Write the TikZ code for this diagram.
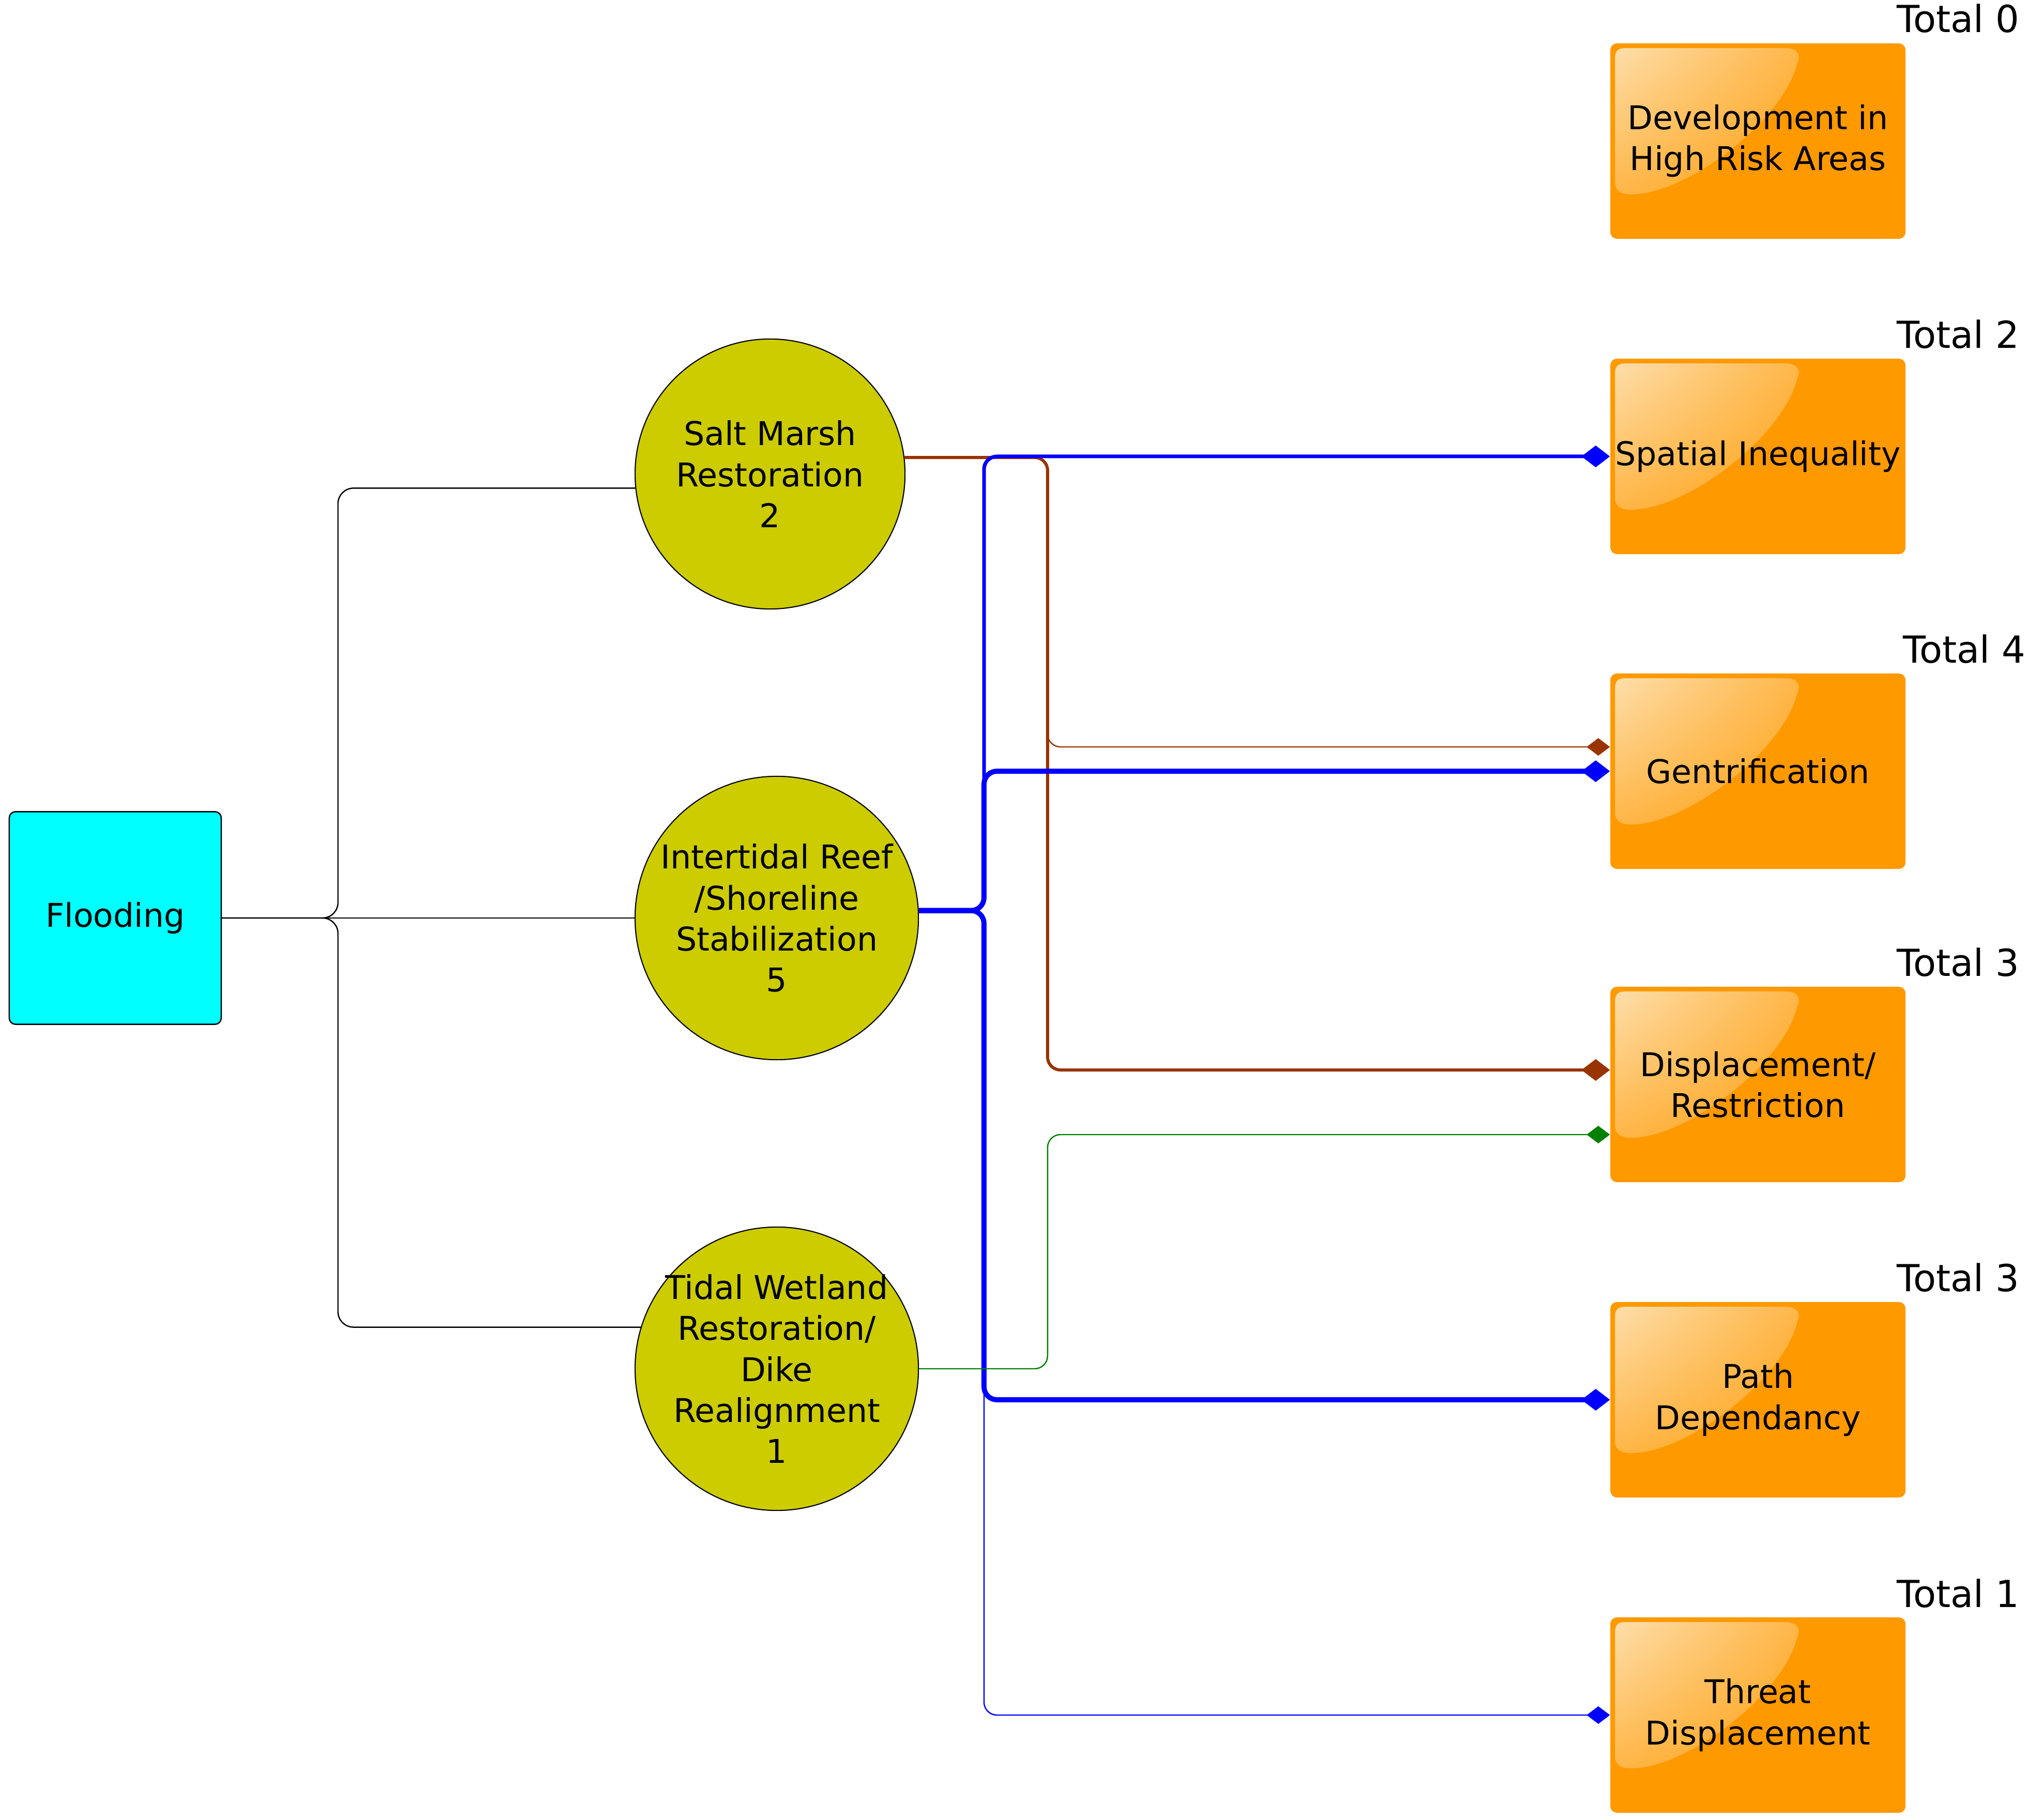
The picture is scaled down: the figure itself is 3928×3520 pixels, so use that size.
\documentclass[tikz,border=0pt]{standalone}
\usepackage{fontspec}
\setmainfont{DejaVu Sans}
\usetikzlibrary{arrows.meta,calc,shadings}

\definecolor{boxor}{RGB}{255,153,0}
\definecolor{circy}{RGB}{204,204,0}
\definecolor{flcyan}{RGB}{0,255,255}
\definecolor{cbrown}{RGB}{153,51,0}
\definecolor{cgreen}{RGB}{0,128,0}
\definecolor{cblue}{RGB}{0,0,255}
\definecolor{glA}{RGB}{253,222,170}
\definecolor{glB}{RGB}{255,182,72}
\definecolor{glD}{RGB}{255,163,22}

\newcommand\glossbox[1]{%
 \begin{scope}[shift={(#1.north west)}]
 \shade[upper left=glA, upper right=glB, lower left=glB, lower right=glD]
   (10,-270) -- (10,-30) .. controls (10,-15) and (15,-10) .. (30,-10) -- (340,-10)
   .. controls (365,-10) and (370,-25) .. (362,-40)
   .. controls (335,-150) and (150,-293) .. (40,-293)
   .. controls (20,-293) and (10,-285) .. (10,-270) -- cycle;
 \end{scope}}

\begin{document}
\begin{tikzpicture}[x=0.01cm,y=0.01cm,
  txt/.style={font=\fontsize{18}{22.5}\selectfont, align=center, inner sep=0pt},
  tot/.style={font=\fontsize{20.5}{24}\selectfont, inner sep=0pt, anchor=base east},
  obox/.style={rectangle, rounded corners=0.13cm, fill=boxor, minimum width=5.71cm, minimum height=3.78cm, inner sep=0pt},
  circ/.style={circle, draw=black, line width=0.6pt, fill=circy, inner sep=0pt},
  flbox/.style={rectangle, rounded corners=0.12cm, draw=black, line width=0.7pt, fill=flcyan, minimum width=4.1cm, minimum height=4.11cm, inner sep=0pt},
  blk/.style={draw=black, line width=0.7pt, rounded corners=0.3cm},
  lnk/.style={rounded corners=0.25cm},
  dbig/.style={-{Diamond[length=0.55cm,width=0.42cm]}},
  dsmall/.style={-{Diamond[length=0.45cm,width=0.34cm]}},
]
\useasboundingbox (0,0) rectangle (3928,3520);

% cause node
\node[flbox] (fl) at (223,1744) {};
\node[txt] (fl-t) at (fl) {Flooding};

% strategy circles
\node[circ, minimum size=5.22cm] (sm) at (1490,2603) {};
\node[circ, minimum size=5.48cm] (ir) at (1503,1744) {};
\node[circ, minimum size=5.48cm] (tw) at (1503,872) {};
\node[txt] (sm-t) at (sm) {Salt Marsh\\Restoration\\2};
\node[txt] (ir-t) at (ir) {Intertidal Reef\\/Shoreline\\Stabilization\\5};
\node[txt] (tw-t) at (tw) {Tidal Wetland\\Restoration/\\Dike\\Realignment\\1};

% outcome boxes
\node[obox] (b1) at (3401.5,3247) {};
\node[obox] (b2) at (3401.5,2637) {};
\node[obox] (b3) at (3401.5,2028) {};
\node[obox] (b4) at (3401.5,1422) {};
\node[obox] (b5) at (3401.5,812) {};
\node[obox] (b6) at (3401.5,202) {};
\glossbox{b1}\glossbox{b2}\glossbox{b3}\glossbox{b4}\glossbox{b5}\glossbox{b6}
\node[txt] (b1-t) at (b1) {Development in\\High Risk Areas};
\node[txt] (b2-t) at (b2) {Spatial Inequality};
\node[txt] (b3-t) at (b3) {Gentrification};
\node[txt] (b4-t) at (b4) {Displacement/\\Restriction};
\node[txt] (b5-t) at (b5) {Path\\Dependancy};
\node[txt] (b6-t) at (b6) {Threat\\Displacement};

% totals
\node[tot] (t0) at (3908,3457) {Total 0};
\node[tot] (t2) at (3908,2846) {Total 2};
\node[tot] (t4) at (3920,2237) {Total 4};
\node[tot] (t3a) at (3908,1631) {Total 3};
\node[tot] (t3b) at (3908,1022) {Total 3};
\node[tot] (t1) at (3908,411) {Total 1};

% helper coordinates
\coordinate (fk) at (654,0);
\coordinate (bx) at (2027,0);
\coordinate (vx) at (1904,0);
\coordinate (d-br) at ($(b4.west)+(0,28)$);
\coordinate (g-br) at ($(b3.west)+(0,47)$);
\coordinate (d-gr) at ($(b4.west)+(0,-97)$);

% black connectors
\draw[blk] (fl.east) -| (fk |- sm.186.6) -- (sm.186.6);
\draw[blk] (fl.east) -- (ir.west);
\draw[blk] (fl.east) -| (fk |- tw.163.5) -- (tw.163.5);

% brown connectors
\draw[lnk, cbrown, line width=1.7pt, dbig] (sm.7.7) -| (bx |- d-br) -- (d-br);
\draw[lnk, cbrown, line width=0.7pt, dsmall] (sm.7.7) -| (bx |- g-br) -- (g-br);

% blue connectors
\draw[lnk, cblue, line width=2pt, dbig] (ir.3.8) -| (vx |- b2.west) -- (b2.west);
\draw[lnk, cblue, line width=2.8pt, dbig] (ir.3.8) -| (vx |- b3.west) -- (b3.west);
\draw[lnk, cblue, line width=2.8pt, dbig] (ir.3.8) -| (vx |- b5.west) -- (b5.west);
\draw[lnk, cblue, line width=0.7pt, dsmall] (ir.3.8) -| (vx |- b6.west) -- (b6.west);

% green connector
\draw[lnk, cgreen, line width=0.7pt, dsmall] (tw.east) -| (bx |- d-gr) -- (d-gr);
\end{tikzpicture}
\end{document}
